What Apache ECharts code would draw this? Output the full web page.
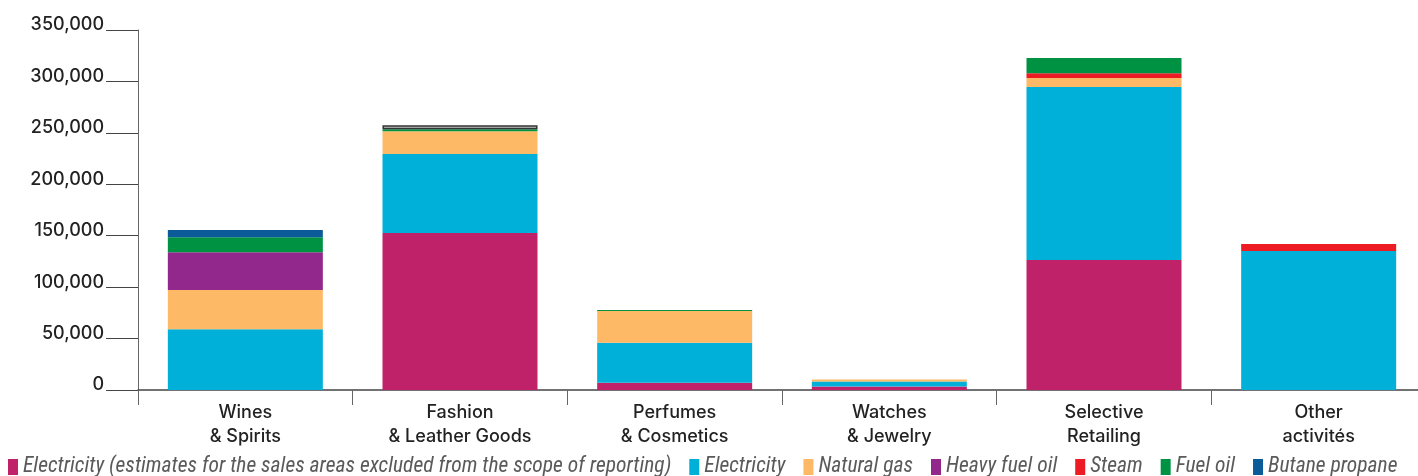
<!DOCTYPE html>
<html>
<head>
<meta charset="utf-8">
<script src="https://cdn.jsdelivr.net/npm/echarts@6/dist/echarts.min.js"></script>
<style>
  html, body { margin: 0; padding: 0; background: #fff; overflow: hidden; }
  /* the last category column runs slightly past the visible edge */
  #chart { width: 1426px; height: 476px; }
</style>
</head>
<body>
<div id="chart"></div>
<script>
// Energy consumption by business group (MWh)
const categories = ['Wines\n& Spirits', 'Fashion\n& Leather Goods', 'Perfumes\n& Cosmetics', 'Watches\n& Jewelry', 'Selective\nRetailing', 'Other\nactivités'];

const electricityEstimates = [0, 152600, 7100, 3400, 126400, 0];
const electricity          = [59000, 76800, 38900, 4900, 168200, 135100];
const naturalGas           = [38200, 22100, 30800, 1900, 8700, 0];
const heavyFuelOil         = [36700, 0, 0, 0, 0, 0];
const steam                = [0, 0, 0, 0, 4600, 6800];
const fuelOil              = [14600, 1900, 1000, 0, 14900, 0];
const butanePropane        = [7000, 3900, 0, 0, 0, 0];

const yTicks = [0, 50000, 100000, 150000, 200000, 250000, 300000, 350000];

const seriesDefs = [
  { name: 'Electricity (estimates for the sales areas excluded from the scope of reporting)', data: electricityEstimates, color: '#C0226A' },
  { name: 'Electricity', data: electricity, color: '#00B0D9' },
  { name: 'Natural gas', data: naturalGas, color: '#FDB965' },
  { name: 'Heavy fuel oil', data: heavyFuelOil, color: '#92278C' },
  { name: 'Steam', data: steam, color: '#ED1C24' },
  { name: 'Fuel oil', data: fuelOil, color: '#009243' },
  { name: 'Butane propane', data: butanePropane, color: '#0B5B98' }
];

const chart = echarts.init(document.getElementById('chart'), null, { renderer: 'canvas' });

const series = seriesDefs.map(function (s) {
  return {
    name: s.name,
    type: 'bar',
    stack: 'total',
    barWidth: 155,
    itemStyle: { color: s.color },
    emphasis: { disabled: true },
    data: s.data.map(function (v, i) {
      // the small Fashion top segment is drawn as an outlined grey block
      if (s.name === 'Butane propane' && i === 1) {
        return { value: v, itemStyle: { color: '#C9C9C9', borderColor: '#333', borderWidth: 1.5 } };
      }
      return v;
    })
  };
});

chart.setOption({
  animation: false,
  backgroundColor: '#fff',
  grid: { left: 138, right: 0, top: 30, height: 360, containLabel: false },
  legend: {
    left: 8,
    top: 456,
    padding: 0,
    width: 3000,
    itemWidth: 10,
    itemHeight: 16,
    itemGap: 18,
    icon: 'rect',
    selectedMode: false,
    textStyle: {
      fontFamily: '"Liberation Sans Narrow", "Roboto Condensed", sans-serif',
      fontStyle: 'italic',
      fontSize: 21.5,
      color: '#5a5a5a'
    },
    data: seriesDefs.map(function (s) { return { name: s.name, itemStyle: { color: s.color } }; })
  },
  xAxis: {
    type: 'category',
    data: categories,
    axisLine: { lineStyle: { color: '#444', width: 1.5 } },
    axisTick: { show: true, length: 15, lineStyle: { color: '#666', width: 1 } },
    axisLabel: {
      margin: 11,
      fontFamily: 'Inter',
      fontWeight: 500,
      fontSize: 18,
      lineHeight: 24,
      color: '#222'
    }
  },
  yAxis: {
    type: 'value',
    min: yTicks[0],
    max: yTicks[yTicks.length - 1],
    interval: yTicks[1] - yTicks[0],
    splitLine: { show: false },
    axisLine: { show: true, lineStyle: { color: '#666', width: 1 } },
    axisTick: { show: true, length: 32, lineStyle: { color: '#444', width: 1 } },
    axisLabel: {
      margin: 34,
      fontFamily: 'Inter',
      fontWeight: 500,
      fontSize: 18,
      color: '#222',
      verticalAlign: 'bottom',
      lineHeight: 10,
      formatter: function (v) { return v.toLocaleString('en-US'); }
    }
  },
  series: series
});
</script>
</body>
</html>
